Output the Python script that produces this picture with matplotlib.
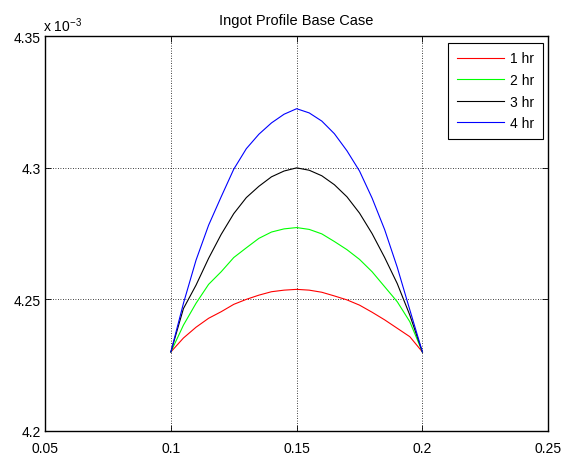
"""Ingot profile base case - MATLAB style line chart (out.png)."""

import matplotlib
matplotlib.use("Agg")
import matplotlib.pyplot as plt

FONT = "Liberation Sans"
plt.rcParams["font.family"] = [FONT, "DejaVu Sans"]
plt.rcParams["mathtext.fontset"] = "custom"
plt.rcParams["mathtext.rm"] = FONT
plt.rcParams["mathtext.it"] = FONT

# radial position
X = [0.100, 0.105, 0.110, 0.115, 0.120, 0.125, 0.130, 0.135, 0.140, 0.145, 0.150,
     0.155, 0.160, 0.165, 0.170, 0.175, 0.180, 0.185, 0.190, 0.195, 0.200]

# profile height, in units of 1e-3
H1 = [4.2300, 4.2353, 4.2394, 4.2428, 4.2453, 4.2481, 4.2500, 4.2516, 4.2529, 4.2535, 4.2538,
      4.2535, 4.2527, 4.2513, 4.2498, 4.2478, 4.2451, 4.2422, 4.2390, 4.2358, 4.2300]
H2 = [4.2300, 4.2402, 4.2485, 4.2557, 4.2605, 4.2659, 4.2696, 4.2732, 4.2756, 4.2768, 4.2773,
      4.2766, 4.2749, 4.2720, 4.2689, 4.2652, 4.2605, 4.2548, 4.2491, 4.2415, 4.2300]
H3 = [4.2300, 4.2465, 4.2554, 4.2656, 4.2747, 4.2826, 4.2887, 4.2930, 4.2966, 4.2988, 4.3000,
      4.2991, 4.2970, 4.2936, 4.2890, 4.2828, 4.2750, 4.2659, 4.2560, 4.2440, 4.2300]
H4 = [4.2300, 4.2485, 4.2649, 4.2782, 4.2890, 4.2995, 4.3073, 4.3128, 4.3171, 4.3204, 4.3225,
      4.3209, 4.3178, 4.3130, 4.3065, 4.2988, 4.2885, 4.2765, 4.2622, 4.2460, 4.2300]

SERIES = [H1, H2, H3, H4]
LABELS = ["1 hr", "2 hr", "3 hr", "4 hr"]
COLORS = ["#FF0000", "#00FF00", "#000000", "#0000FF"]

XTICKS = [0.05, 0.1, 0.15, 0.2, 0.25]
XTICKLABELS = ["0.05", "0.1", "0.15", "0.2", "0.25"]
YTICKS = [4.2, 4.25, 4.3, 4.35]
YTICKLABELS = ["4.2", "4.25", "4.3", "4.35"]


def main():
    fig = plt.figure(figsize=(5.71, 4.56), dpi=100)
    fig.set_facecolor("white")
    ax = fig.add_axes([0.079, 0.053, 0.881, 0.865])

    for ys, lab, col in zip(SERIES, LABELS, COLORS):
        ax.plot(X, ys, color=col, lw=0.8, label=lab)

    ax.set_xlim(0.05, 0.25)
    ax.set_ylim(4.2, 4.35)
    ax.set_xticks(XTICKS)
    ax.set_xticklabels(XTICKLABELS)
    ax.set_yticks(YTICKS)
    ax.set_yticklabels(YTICKLABELS)

    ax.tick_params(direction="in", length=4, width=0.6, labelsize=10,
                   top=True, right=True, pad=3, colors="black")
    ax.tick_params(axis="x", pad=7.5)
    ax.grid(True, color="black", linestyle=(0, (1, 2)), linewidth=0.6)
    for sp in ax.spines.values():
        sp.set_linewidth(1.0)
        sp.set_color("black")

    ax.set_title("Ingot Profile Base Case", fontsize=10.5, pad=9)
    ax.text(-0.004, 1.005, r"x 10$^{-3}$", transform=ax.transAxes,
            fontsize=10, ha="left", va="bottom")

    leg = ax.legend(loc="upper right", bbox_to_anchor=(0.989, 0.983),
                    fontsize=10, fancybox=False, framealpha=1,
                    edgecolor="black", handlelength=3.4, handletextpad=0.45,
                    borderpad=0.6, labelspacing=0.55, borderaxespad=0)
    leg.get_frame().set_linewidth(0.8)

    fig.savefig("out.png", dpi=100, facecolor="white")
    plt.close(fig)


if __name__ == "__main__":
    main()
